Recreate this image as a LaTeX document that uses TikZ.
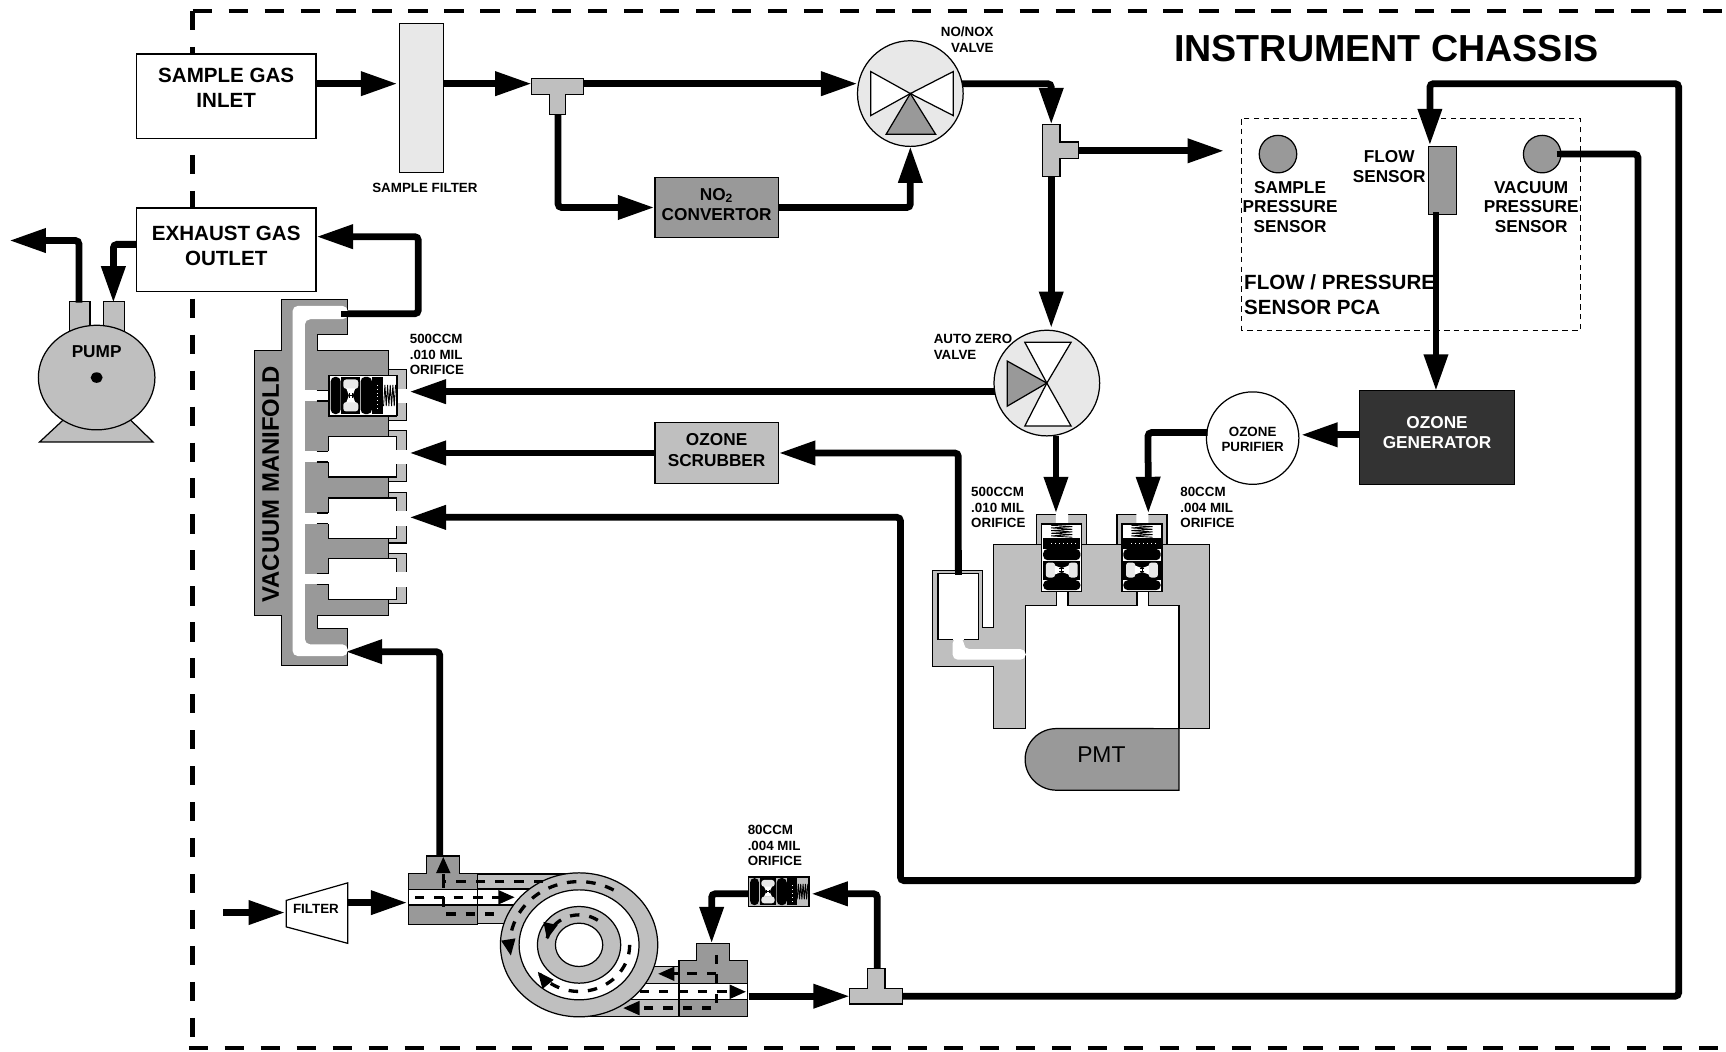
\documentclass[tikz,border=0pt]{standalone}
\usepackage{fontspec}
\setmainfont{Liberation Sans}
\usetikzlibrary{arrows.meta,shapes.geometric}
\definecolor{gaslight}{gray}{.75}
\definecolor{gasdark}{gray}{.6}
\definecolor{valvelight}{gray}{.91}
\definecolor{genfill}{gray}{.2}
\tikzset{
  thinline/.style={line width=.7pt,draw=black},
  pipe/.style={line width=.135cm,rounded corners=2pt},
  flow/.style={pipe,-{Triangle[length=.73cm,width=.46cm]}},
  flowdash/.style={line width=.066cm,dash pattern=on 5.4pt off 5.6pt},
  flowtip/.style={flowdash,-{Triangle[length=.33cm,width=.27cm]}},
  chassis/.style={line width=.09cm,dash pattern=on 10.95pt off 9.5pt},
  labelbig/.style={font=\fontsize{11.7}{14.2}\selectfont\bfseries,align=center,inner sep=0pt},
  labelmid/.style={font=\fontsize{9.8}{11.3}\selectfont\bfseries,align=center,inner sep=0pt},
  labelsmall/.style={font=\fontsize{7.6}{8.8}\selectfont\bfseries,align=left,inner sep=0pt},
  boxnode/.style={thinline,rectangle,inner sep=0pt,fill=white},
  roundnode/.style={thinline,circle,inner sep=0pt},
  traced/.style={x=.00666cm,y=-.00666cm},
  orificebg/.store in=\orificebg,
  orificebg=white,
  orifice/.pic={
    \begin{scope}[x=.00666cm,y=.00666cm]
    \draw[thinline,fill=\orificebg] (-102,-60) rectangle (102,60);
    \fill[rounded corners=2.6pt] (-97,-56) rectangle (-67,56);
    \fill[rounded corners=2.6pt] (-7,-56) rectangle (27,56);
    \fill (-65,-56) rectangle (-9,56);
    \fill[valvelight,rounded corners=1.6pt] (-59,48) -- (-14,48) -- (-14,20) -- (-59,20) -- cycle;
    \fill[valvelight,rounded corners=1.6pt] (-59,-48) -- (-14,-48) -- (-14,-20) -- (-59,-20) -- cycle;
    \fill[white] (-50,21) -- (-23,21) -- (-31,0) -- (-23,-21) -- (-50,-21) -- (-42,0) -- cycle;
    \draw[line width=.5pt] (-42,-7) -- (-42,7) (-31,-7) -- (-31,7) (-42,0) -- (-31,0);
    \fill (28,-56) rectangle (60,56);
    \draw[white,dotted,line width=.25pt] (44,-40) -- (44,40);
    \draw[line width=.5pt] (62,-32) foreach \xx in {66,74,82,90} { -- (\xx,32) -- (\xx+4,-32) } -- (98,32);
    \end{scope}
  }
}
\begin{document}
\begin{tikzpicture}[x=.022cm,y=-.022cm]
\useasboundingbox (0,0) rectangle (1568,954.8);
% chassis outline
\draw[chassis] (175,10) -- (1568,10);
\draw[chassis] (175,10) -- (175,952);
\draw[chassis] (171.5,952) -- (1568,952);
\node[font=\fontsize{21.4}{24}\selectfont\bfseries,inner sep=0pt] (chassislabel) at (1259.5,44) {INSTRUMENT CHASSIS};

% free ends of the connectors
\coordinate (mfin1) at (372,355.8);
\coordinate (mfin2) at (372,411.5);
\coordinate (mfin3) at (372,470);
\coordinate (mfin4) at (314,592);
\coordinate (mfout) at (310,285);
\coordinate (vent) at (8.5,218.5);
\coordinate (pumpout) at (71.7,275);
\coordinate (pumpin) at (103,275);
\coordinate (tee1in) at (483,76);
\coordinate (tee1out) at (530,76);
\coordinate (tee1down) at (507,104);
\coordinate (tee2in) at (955,113);
\coordinate (tee2side) at (980,137);
\coordinate (tee2down) at (955,160);
\coordinate (tee3in) at (772,905);
\coordinate (tee3right) at (820,905);
\coordinate (tee3up) at (797,880);
\coordinate (vessel) at (870.6,522.3);
\coordinate (orificeA) at (959.3,466.3);
\coordinate (orificeB) at (1043.2,466.3);
\coordinate (pumpinlet) at (203,829);
\coordinate (filterout) at (316,820);
\coordinate (ringin) at (370,820);
\coordinate (ringtop) at (399.5,778);
\coordinate (ringout) at (680,905);
\coordinate (ringback) at (646.5,857);
\coordinate (orificeCin) at (737,812);
\coordinate (orificeCout) at (680,812);

% pump
\draw[thinline,fill=gaslight] (63,274) rectangle (81.7,305) (93.9,274) rectangle (113,305);
\draw[thinline,fill=gaslight] (36,401.5) -- (139,401.5) -- (118,381) -- (58,381) -- cycle;
\node[thinline,ellipse,fill=gaslight,minimum width=2.33cm,minimum height=2.09cm,inner sep=0pt] (pump) at (87.8,343) {};
\fill (pump.center) circle[x radius=.12cm,y radius=.105cm];
\node[labelmid] (pumplabel) at (87.8,319.5) {PUMP};

% boxes
\node[boxnode,minimum width=3.586cm,minimum height=1.694cm] (inlet) at (205.5,87.5) {};
\node[labelbig] (inletlabel) at (205.5,80) {SAMPLE GAS\\INLET};
\node[boxnode,minimum width=3.586cm,minimum height=1.672cm] (outlet) at (205.5,227) {};
\node[labelbig] (outletlabel) at (205.5,223.5) {EXHAUST GAS\\OUTLET};
\node[boxnode,fill=valvelight,minimum width=.88cm,minimum height=2.992cm] (samplefilter) at (383,89) {};
\node[labelsmall] (samplefilterlabel) at (386,171) {SAMPLE FILTER};
\node[boxnode,fill=gasdark,minimum width=2.464cm,minimum height=1.21cm] (no2conv) at (651,188.5) {};
\node[labelmid] (no2label) at (651,185.5) {NO\textsubscript{2}\\CONVERTOR};
\node[boxnode,fill=gaslight,minimum width=2.464cm,minimum height=1.21cm] (scrubber) at (651,411.5) {};
\node[labelmid] (scrubberlabel) at (651,409) {OZONE\\[1pt]SCRUBBER};
\node[boxnode,fill=genfill,minimum width=3.102cm,minimum height=1.87cm] (generator) at (1305.5,397.5) {};
\node[labelmid,text=white] (generatorlabel) at (1305.5,393) {OZONE\\GENERATOR};
\node[roundnode,fill=white,minimum size=1.848cm] (purifier) at (1138,398) {};
\node[labelsmall,align=center] (purifierlabel) at (1138,399) {OZONE\\PURIFIER};

% flow / pressure board
\draw[line width=.6pt,dash pattern=on 3.2pt off 2.4pt] (1128,108) rectangle (1436,300);
\node[labelbig,align=left,anchor=west] (pcalabel) at (1130,267.5) {FLOW / PRESSURE\\SENSOR PCA};
\node[labelmid] (samplelabel) at (1172,188) {SAMPLE\\PRESSURE\\SENSOR};
\node[labelmid] (flowlabel) at (1262,151) {FLOW\\SENSOR};
\node[labelmid] (vaclabel) at (1391,188) {VACUUM\\PRESSURE\\SENSOR};

% connectors
\draw[flow] (inlet.east |- 0,76) -- (361,76);
\draw[flow] (samplefilter.east |- tee1in) -- (tee1in);
\draw[flow] (tee1out) -- (tee1out -| 779,0);
\draw[flow] (tee1down) |- (no2conv.west);
\draw[flow] (no2conv.east) -| (827,133);
\draw[flow] (874,76) -| (tee2in);
\draw[flow] (tee2side) -- (1112,137);
\draw[flow] (tee2down) -- (955,298);
\draw[flow] (tee3right) -- (1525,905) -- (1525,76) -- (1299,76) -- (1299,132);
\draw[flow] (1304.5,195) -- (1304.5,355);
\draw[flow] (1414,140) -- (1488,140) -- (1488,800) -- (818,800) -- (818,470) -- (mfin3);
\draw[flow] (generator.west |- 0,395) -- (1182,395);
\draw[flow] (1097,393) -- (1042.9,393) -- (orificeB);
\draw[flow] (959.3,396) -- (orificeA);
\draw[flow] (903.5,355.8) -- (mfin1);
\draw[flow] (scrubber.west) -- (mfin2);
\draw[flow] (vessel) -- (870.6,411.5) -- (scrubber.east);
\draw[flow] (mfout) -| (380,215) -- (outlet.east |- 0,215);
\draw[flow] (pumpout) |- (vent);
\draw[flow] (outlet.west |- 0,222) -| (pumpin);
\draw[flow] (ringtop) -- (399.5,592) -- (mfin4);
\draw[flow] (pumpinlet) -- (259,829);
\draw[flow] (filterout) -- (ringin);
\draw[flow] (ringout) -- (tee3in);
\draw[flow] (tee3up) -- (797,812) -- (orificeCin);
\draw[flow] (orificeCout) -- (646.5,812) -- (ringback);

% sensors, valves and tees
\node[roundnode,fill=gasdark,minimum size=.75cm] (samplepres) at (1161,140) {};
\node[roundnode,fill=gasdark,minimum size=.75cm] (vacpres) at (1401,140) {};
\draw[pipe] (1414,140) -- (1430,140);
\node[boxnode,fill=gasdark,minimum width=.56cm,minimum height=1.37cm] (flowsensor) at (1310.5,164) {};
\draw[pipe] (1304.5,193) -- (1304.5,200);
\draw[thinline,fill=gaslight] (483,71) -- (530,71) -- (530,86) -- (514,86) -- (514,104) -- (499,104) -- (499,86) -- (483,86) -- cycle;
\draw[thinline,fill=gaslight] (947,113) -- (963,113) -- (963,129) -- (980,129) -- (980,144) -- (963,144) -- (963,160) -- (947,160) -- cycle;
\draw[thinline,fill=gaslight] (788,880) -- (804,880) -- (804,898) -- (820,898) -- (820,912) -- (772,912) -- (772,898) -- (788,898) -- cycle;
\node[roundnode,fill=valvelight,minimum size=2.112cm] (novalve) at (827,85) {};
\draw[thinline,fill=white] (791,65) -- (791,105) -- (827,85) -- cycle (866,65) -- (866,105) -- (827,85) -- cycle;
\draw[thinline,fill=gasdark] (805,122) -- (850,122) -- (827,85) -- cycle;
\node[labelsmall,align=right,anchor=east] (novalvelabel) at (903,36) {NO/NOX\\VALVE};
\node[roundnode,fill=valvelight,minimum size=2.112cm] (azvalve) at (951,348) {};
\draw[thinline,fill=white] (931,311) -- (973,311) -- (951,348) -- cycle (931,387) -- (973,387) -- (951,348) -- cycle;
\draw[thinline,fill=gasdark] (915,328) -- (915,369) -- (951,348) -- cycle;
\node[labelsmall,anchor=west] (azvalvelabel) at (848,315) {AUTO ZERO\\VALVE};

% vacuum manifold
\begin{scope}[shift={(218,263.4)},traced]
\foreach \ty in {257,440,625,808}
  \draw[thinline,fill=gaslight] (447,\ty-17) rectangle (500,\ty+135);
\draw[thinline,fill=gasdark] (125,28) -- (322,28) -- (322,135) -- (232,135) -- (232,182) -- (447,182) -- (447,978) -- (232,978) -- (232,1018) -- (322,1018) -- (322,1128) -- (125,1128) -- (125,978) -- (43,978) -- (43,182) -- (125,182) -- cycle;
\fill[white,rounded corners=3pt] (324,48) -- (158,48) -- (158,1100) -- (324,1100) -- (324,1065) -- (195,1065) -- (195,88) -- (324,88) -- cycle;
\foreach \ty in {257,440,625,808} {
  \fill[white] (465,\ty+40) rectangle (504,\ty+84);
  \fill[white] (195,\ty+45) rectangle (270,\ty+77);
  \draw[thinline] (230,\ty+45) -- (265,\ty+45) (230,\ty+77) -- (265,\ty+77);
  \draw[thinline,fill=white] (265,\ty+45) -- (265,\ty) -- (470,\ty) -- (470,\ty+122) -- (265,\ty+122) -- (265,\ty+77);
  \fill[white] (462,\ty+40) rectangle (504,\ty+84);
}
\draw[pipe,rounded corners=0pt] (305,72) -- (330,72);
\pic at (369.5,317) {orifice};
\node[font=\fontsize{13.6}{15}\selectfont\bfseries,rotate=90,inner sep=0pt] (manifoldlabel) at (92,585) {VACUUM MANIFOLD};
\end{scope}
\node[labelsmall,anchor=west] (orificeDlabel) at (372,322) {500CCM\\.010 MIL\\ORIFICE};

% reaction cell
\begin{scope}[shift={(835.76,454.2)},traced]
\draw[thinline,fill=gaslight] (222,133) -- (870,133) -- (870,687) -- (778,687) -- (778,318) -- (316,318) -- (316,687) -- (222,687) -- (222,500) -- (38,500) -- (38,213) -- (188,213) -- (188,382) -- (222,382) -- cycle;
\foreach \vx in {350,592}
  \draw[thinline,fill=gaslight] (\vx,133) -- (\vx,43) -- (\vx+150,43) -- (\vx+150,133);
\draw[thinline,fill=white] (54,420) -- (54,220) -- (175,220) -- (175,420);
\draw[thinline] (54,420) -- (98,420) (132,420) -- (175,420);
\fill[white,rounded corners=3pt] (98,415) -- (98,480) -- (318,480) -- (318,448) -- (132,448) -- (132,415) -- cycle;
\fill[white] (408,40) rectangle (445,75) (650,40) rectangle (686,75);
\fill[white] (412,270) rectangle (445,320) (654,270) rectangle (686,320);
\draw[thinline] (410,276) -- (410,318) (445,276) -- (445,318) (652,276) -- (652,318) (686,276) -- (686,318);
\pic[rotate=90] at (426,174) {orifice};
\pic[rotate=90] at (667,174) {orifice};
\draw[thinline,fill=gasdark] (778,687) -- (778,872) -- (410,872) arc[start angle=270,end angle=90,x radius=.626cm,y radius=.616cm] -- cycle;
\node[font=\fontsize{13}{15}\selectfont,inner sep=0pt] (pmtlabel) at (545,765) {PMT};
\end{scope}
\draw[pipe,rounded corners=0pt] (vessel) -- (870.6,500);
\node[labelsmall,anchor=west] (orificeAlabel) at (882,461) {500CCM\\.010 MIL\\ORIFICE};
\node[labelsmall,anchor=west] (orificeBlabel) at (1072,461) {80CCM\\.004 MIL\\ORIFICE};

% filter and sample pump
\node[labelsmall,align=center] (filterlabel) at (287,825.5) {FILTER};
\draw[thinline] (260,818) -- (316,802) -- (316,857) -- (260,842) -- cycle;
\begin{scope}[shift={(363.4,763.1)},traced]
\draw[thinline,fill=gaslight] (232,102) rectangle (500,147);
\draw[thinline,fill=gaslight] (232,197) rectangle (340,250);
\draw[thinline,fill=gaslight] (700,380) rectangle (838,430);
\draw[thinline,fill=gaslight] (560,480) rectangle (838,530);
\draw[thinline,fill=white] (232,148) rectangle (400,195);
\draw[thinline,fill=white] (660,432) rectangle (838,480);
\draw[thinline,fill=gaslight] (538,315) circle[x radius=1.572cm,y radius=1.439cm];
\draw[thinline,fill=white] (538,315) circle[x radius=1.199cm,y radius=1.099cm];
\draw[thinline,fill=gaslight] (538,315) circle[x radius=.832cm,y radius=.766cm];
\draw[thinline,fill=white] (538,315) circle[x radius=.473cm,y radius=.433cm];
\draw[thinline,fill=gasdark] (80,48) -- (178,48) -- (178,100) -- (232,100) -- (232,255) -- (25,255) -- (25,100) -- (80,100) -- cycle;
\draw[thinline,fill=white] (25,148) rectangle (232,195);
\draw[thinline,fill=gasdark] (890,310) -- (990,310) -- (990,362) -- (1043,362) -- (1043,530) -- (838,530) -- (838,362) -- (890,362) -- cycle;
\draw[thinline,fill=white] (838,432) rectangle (1043,480);
\draw[flowdash] (430,124) -- (130,124) -- (130,222) -- (300,222);
\draw[flowtip] (130,130) -- (130,50);
\draw[flowtip] (45,172) -- (345,172);
\draw[flowtip] plot[domain=-60:-190,samples=40] ({538+208*cos(\x)},{315+190*sin(\x)});
\draw[flowtip] plot[domain=-55:-170,samples=40] ({538+98*cos(\x)},{315+90*sin(\x)});
\draw[flowtip] plot[domain=0:145,samples=40] ({538+152*cos(\x)},{315+140*sin(\x)});
\draw[flowtip] (950,345) -- (950,505) -- (670,505);
\draw[flowtip] (950,402) -- (775,402);
\draw[flowtip] (720,456) -- (1040,456);
\end{scope}
\pic[xscale=.89,yscale=.73,orificebg=gaslight] at (707.5,810) {orifice};
\node[labelsmall,anchor=west] (orificeClabel) at (679,768) {80CCM\\.004 MIL\\ORIFICE};
\end{tikzpicture}
\end{document}
